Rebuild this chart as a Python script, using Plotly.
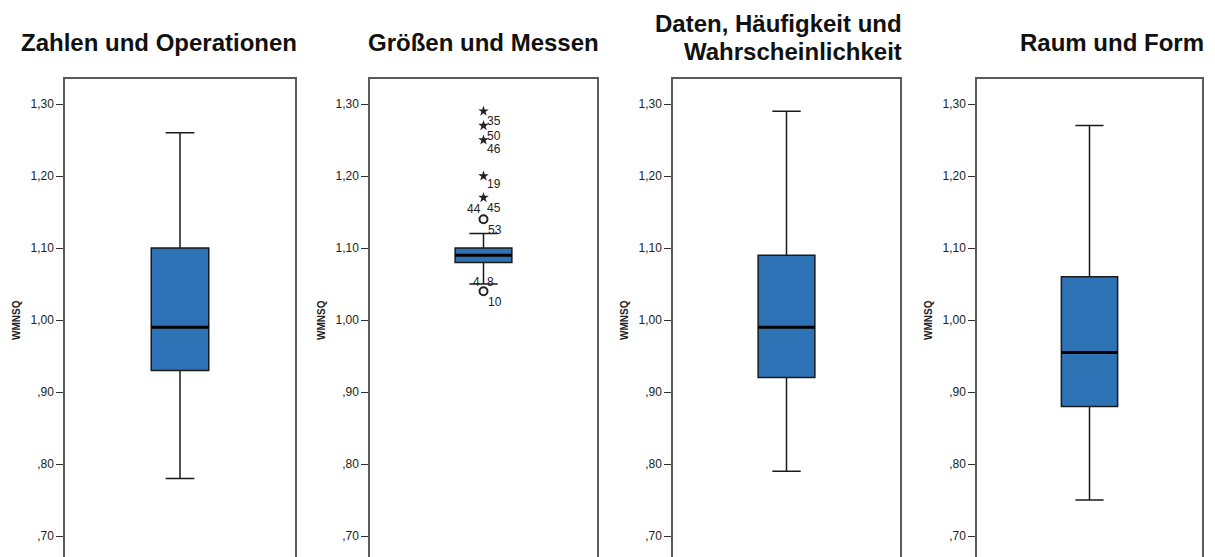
import plotly.graph_objects as go

# ---------------- data ----------------
panel_titles = ["Zahlen und Operationen", "Größen und Messen",
                "Daten, Häufigkeit und<br>Wahrscheinlichkeit", "Raum und Form"]
lower_whisker = [0.78, 1.05, 0.79, 0.75]
q1_vals = [0.93, 1.08, 0.92, 0.88]
median_vals = [0.99, 1.09, 0.99, 0.955]
q3_vals = [1.10, 1.10, 1.09, 1.06]
upper_whisker = [1.26, 1.12, 1.29, 1.27]

# outliers (panel 2: Größen und Messen)
extreme_values = [1.29, 1.27, 1.25, 1.20, 1.17]
mild_values = [1.14, 1.04]
case_labels = ["35", "50", "46", "19", "44", "45", "53", "4", "8", "10"]
case_values = [1.29, 1.27, 1.25, 1.20, 1.17, 1.17, 1.14, 1.05, 1.05, 1.04]

tick_vals = [0.70, 0.80, 0.90, 1.00, 1.10, 1.20, 1.30]
tick_text = [",70", ",80", ",90", "1,00", "1,10", "1,20", "1,30"]
y_title = "WMNSQ"

# ---------------- layout/style ----------------
PAGE_MARGIN = 8  # default body margin of the html page
W, H = 1215 - PAGE_MARGIN, 557 - PAGE_MARGIN
frame_px = [(65, 295), (370, 597), (673, 900), (977, 1202)]
frame_px = [(l - PAGE_MARGIN, r - PAGE_MARGIN) for l, r in frame_px]
plot_top_px = 79 - PAGE_MARGIN
y_range = [0.70 - 21 / 720, 1.30 + 25 / 720]
box_color = "#2e72b6"
frame_color = "#5a5a5a"
font_family = "Arial, Liberation Sans, sans-serif"
# label offsets in px (xshift, yshift) for case labels
label_shift = [(10, -10), (10, -10), (10, -9), (10, -8), (-10, -11), (10, -10),
               (11, -11), (-7, 2), (7, 2), (11, -11)]

fig = go.Figure()
layout = dict(width=W, height=H, margin=dict(l=0, r=0, t=0, b=0),
              paper_bgcolor="white", plot_bgcolor="white", showlegend=False)
annotations = []

for i in range(4):
    sfx = "" if i == 0 else str(i + 1)
    xa, ya = "x" + sfx, "y" + sfx
    fig.add_trace(go.Box(
        x=[0], q1=[q1_vals[i]], median=[median_vals[i]], q3=[q3_vals[i]],
        lowerfence=[lower_whisker[i]], upperfence=[upper_whisker[i]],
        width=1.0, whiskerwidth=0.5, fillcolor=box_color,
        line=dict(color="#1a1a1a", width=1.5), boxpoints=False,
        xaxis=xa, yaxis=ya, hoverinfo="skip"))
    fig.add_trace(go.Scatter(
        x=[-0.5, 0.5], y=[median_vals[i], median_vals[i]], mode="lines",
        line=dict(color="black", width=3), xaxis=xa, yaxis=ya, hoverinfo="skip"))
    l, r = frame_px[i]
    layout["xaxis" + sfx] = dict(
        domain=[l / W, r / W], range=[-2, 2], side="top", showline=True,
        linecolor=frame_color, linewidth=1.5, showticklabels=False,
        showgrid=False, zeroline=False, ticks="", anchor=ya, fixedrange=True)
    layout["yaxis" + sfx] = dict(
        domain=[0, 1 - plot_top_px / H], range=y_range, showline=True,
        mirror=True, linecolor=frame_color, linewidth=1.5,
        ticks="outside", ticklen=7, tickcolor="#333", tickwidth=1,
        ticklabelstandoff=0,
        tickvals=tick_vals, ticktext=tick_text,
        tickfont=dict(family=font_family, size=12, color="#222"),
        showgrid=False, zeroline=False, anchor=xa, fixedrange=True)
    annotations.append(dict(
        text="<b>%s</b>" % y_title, textangle=-90, xref="paper", yref=ya,
        x=(l - 49) / W, y=1.0, showarrow=False, xanchor="center", yanchor="middle",
        font=dict(family=font_family, size=10, color="#222")))
    lines = panel_titles[i].split("<br>")
    if len(lines) == 1:
        ys = [42]
    else:
        ys = [24, 51]
    for txt, yc in zip(lines, ys):
        annotations.append(dict(
            text="<b>%s</b>" % txt, xref="paper", yref="paper",
            x=(r + 4) / W, y=1 - (yc - PAGE_MARGIN) / H, xanchor="right",
            yanchor="middle", showarrow=False,
            font=dict(family=font_family, size=24, color="#111")))

# outliers in panel 2
fig.add_trace(go.Scatter(
    x=[0] * len(extreme_values), y=extreme_values, mode="markers",
    marker=dict(symbol="star", size=8, color="#222"),
    xaxis="x2", yaxis="y2", hoverinfo="skip"))
fig.add_trace(go.Scatter(
    x=[0] * len(mild_values), y=mild_values, mode="markers",
    marker=dict(symbol="circle-open", size=8, color="#222", line=dict(width=2)),
    xaxis="x2", yaxis="y2", hoverinfo="skip"))
for txt, val, (dx, dy) in zip(case_labels, case_values, label_shift):
    annotations.append(dict(
        text=txt, xref="x2", yref="y2", x=0, y=val, xshift=dx, yshift=dy,
        showarrow=False, xanchor="center", yanchor="middle",
        font=dict(family=font_family, size=12, color="#222")))

layout["annotations"] = annotations
fig.update_layout(**layout)
fig.write_html("out.html")
